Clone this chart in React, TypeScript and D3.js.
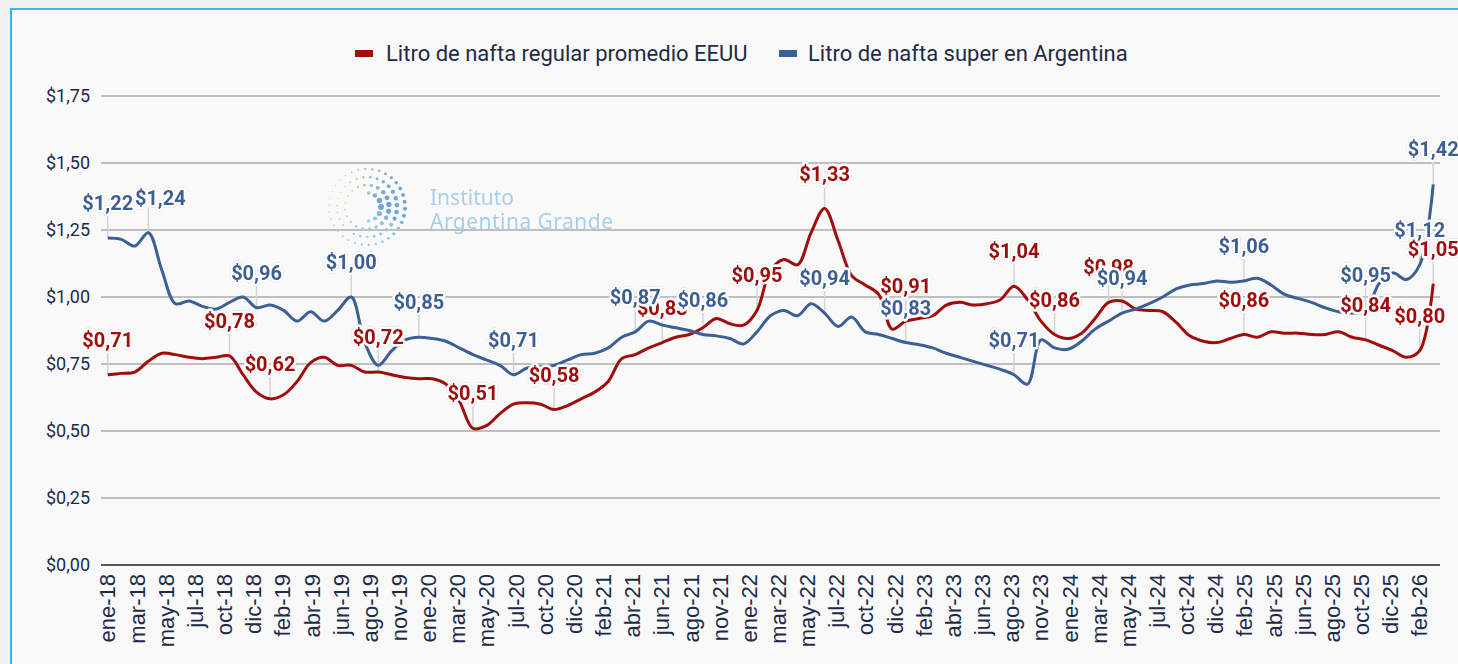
import React from 'react';
import * as d3 from 'd3';

const W = 1458;
const H = 664;

const monthNames = ['ene', 'feb', 'mar', 'abr', 'may', 'jun', 'jul', 'ago', 'sep', 'oct', 'nov', 'dic'];
const categories: string[] = d3.range(99).map((i) => `${monthNames[i % 12]}-${18 + Math.floor(i / 12)}`);

const tickLabels = [
  'ene-18', 'mar-18', 'may-18', 'jul-18', 'oct-18', 'dic-18', 'feb-19', 'abr-19', 'jun-19', 'ago-19',
  'nov-19', 'ene-20', 'mar-20', 'may-20', 'jul-20', 'oct-20', 'dic-20', 'feb-21', 'abr-21', 'jun-21',
  'ago-21', 'nov-21', 'ene-22', 'mar-22', 'may-22', 'jul-22', 'oct-22', 'dic-22', 'feb-23', 'abr-23',
  'jun-23', 'ago-23', 'nov-23', 'ene-24', 'mar-24', 'may-24', 'jul-24', 'oct-24', 'dic-24', 'feb-25',
  'abr-25', 'jun-25', 'ago-25', 'oct-25', 'dic-25', 'feb-26',
];

const yTicks = [0, 0.25, 0.5, 0.75, 1.0, 1.25, 1.5, 1.75];

// Litro de nafta regular promedio EEUU (USD)
const usaValues = [
  0.71, 0.715, 0.72, 0.76, 0.79, 0.785, 0.775, 0.77, 0.775, 0.78,
  0.71, 0.645, 0.62, 0.635, 0.685, 0.755, 0.775, 0.745, 0.745, 0.72,
  0.72, 0.71, 0.70, 0.695, 0.695, 0.675, 0.61, 0.51, 0.52, 0.565,
  0.60, 0.605, 0.60, 0.58, 0.595, 0.62, 0.645, 0.685, 0.77, 0.785,
  0.81, 0.83, 0.85, 0.86, 0.885, 0.92, 0.90, 0.895, 0.95, 1.10,
  1.14, 1.12, 1.24, 1.33, 1.21, 1.08, 1.045, 1.01, 0.88, 0.91,
  0.92, 0.93, 0.97, 0.98, 0.97, 0.975, 0.99, 1.04, 0.99, 0.91,
  0.86, 0.845, 0.865, 0.92, 0.98, 0.985, 0.955, 0.95, 0.945, 0.905,
  0.855, 0.835, 0.83, 0.845, 0.86, 0.85, 0.87, 0.865, 0.865, 0.86,
  0.86, 0.87, 0.85, 0.84, 0.82, 0.80, 0.775, 0.80, 1.05,
];

// Litro de nafta super en Argentina (USD)
const argValues = [
  1.22, 1.215, 1.19, 1.24, 1.10, 0.975, 0.985, 0.965, 0.955, 0.98,
  1.00, 0.96, 0.97, 0.95, 0.91, 0.945, 0.91, 0.95, 1.00, 0.83,
  0.745, 0.80, 0.84, 0.85, 0.845, 0.835, 0.81, 0.785, 0.765, 0.745,
  0.71, 0.735, 0.74, 0.745, 0.765, 0.785, 0.79, 0.81, 0.85, 0.87,
  0.91, 0.895, 0.885, 0.875, 0.86, 0.855, 0.845, 0.825, 0.87, 0.93,
  0.95, 0.93, 0.975, 0.94, 0.89, 0.925, 0.87, 0.86, 0.845, 0.83,
  0.822, 0.81, 0.79, 0.775, 0.76, 0.745, 0.73, 0.71, 0.675, 0.84,
  0.81, 0.805, 0.835, 0.88, 0.91, 0.94, 0.955, 0.975, 1.00, 1.03,
  1.045, 1.05, 1.06, 1.055, 1.06, 1.07, 1.045, 1.01, 0.995, 0.98,
  0.96, 0.945, 0.94, 0.95, 1.05, 1.09, 1.065, 1.12, 1.42,
];

const usaLabelIdx = [0, 9, 12, 20, 27, 33, 41, 48, 53, 59, 67, 70, 74, 84, 93, 97, 98];
const argLabelIdx = [0, 3, 11, 18, 23, 30, 39, 44, 53, 59, 67, 75, 84, 93, 97, 98];

const seriesNames = ['Litro de nafta regular promedio EEUU', 'Litro de nafta super en Argentina'];

const RED = '#A00D0D';
const BLUE = '#3C5F95';
const TEXT = '#1E2B48';

const x = d3.scaleLinear().domain([-0.5, categories.length - 0.5]).range([101, 1440]);
const y = d3.scaleLinear().domain([0, 1.75]).range([565, 96]);
const xTick = d3.scalePoint<string>().domain(tickLabels).range([x(0), x(97)]);

const fmt = (v: number) => '$' + d3.format('.2f')(v).replace('.', ',');

const lineGen = d3
  .line<number>()
  .x((_, i) => x(i))
  .y((d) => y(d))
  .curve(d3.curveCatmullRom.alpha(0.5));

// decorative watermark dots
const logoCx = 367;
const logoCy = 207;
const logoDots: { cx: number; cy: number; r: number; c: string }[] = [];
[14, 22, 30, 38].forEach((rad, j) => {
  const n = Math.round((2 * Math.PI * rad) / 7);
  for (let k = 0; k < n; k++) {
    const a = (k / n) * 2 * Math.PI + j * 0.2;
    const cx = logoCx + rad * Math.cos(a);
    const cy = logoCy + rad * Math.sin(a);
    const right = (1 + Math.cos(a - 0.3)) / 2;
    const bottom = Math.max(0, Math.sin(a));
    const size = (0.9 + 2.1 * right * (1 - 0.45 * bottom)) * (1 - j * 0.1);
    const col = d3.interpolateRgb('#cfe083', '#5f9bd3')(Math.min(1, right * 1.15));
    const c = bottom > 0.4 ? d3.interpolateRgb(col, '#7fd0f0')(bottom) : col;
    if (j === 0 && Math.cos(a) < -0.2) continue;
    logoDots.push({ cx, cy, r: size, c });
  }
});

// label nudges (px) where the original moved a label sideways to avoid a neighbour
const labelNudge: Record<string, number> = { 'arg-3': 12 };

function DataLabel({ xp, yp, text, color }: { xp: number; yp: number; text: string; color: string }) {
  return (
    <text x={xp} y={yp - 35} dy="0.35em" textAnchor="middle" fontFamily="Roboto" fontWeight={700} fontSize={20}
      fill={color} stroke="#ffffff" strokeWidth={5} strokeLinejoin="round" paintOrder="stroke" filter="url(#rim)">
      {text}
    </text>
  );
}

export default function App() {
  const series = [
    { key: 'usa', name: seriesNames[0], values: usaValues, color: RED, labels: usaLabelIdx },
    { key: 'arg', name: seriesNames[1], values: argValues, color: BLUE, labels: argLabelIdx },
  ];
  return (
    <svg width={W} height={H} style={{ position: 'absolute', left: 0, top: 0 }}>
      <defs>
        <filter id="rim" x="-20%" y="-40%" width="140%" height="180%">
          <feDropShadow dx="0" dy="0" stdDeviation="0.7" floodColor="#8a8a8a" floodOpacity="0.7" />
        </filter>
      </defs>
      <rect x={0} y={0} width={W} height={H} fill="#f1f1f1" />
      <rect x={11} y={9} width={W + 20} height={H + 20} fill="#f9f9f9" stroke="#35b8ee" strokeWidth={2} />

      {/* watermark */}
      <g opacity={0.9}>
        {logoDots.map((d, i) => (
          <circle key={i} cx={d.cx} cy={d.cy} r={d.r} fill={d.c} />
        ))}
        <text x={430} y={205} fontFamily="Noto Sans" fontSize={21} fill="#9ccbea">Instituto</text>
        <text x={430} y={229} fontFamily="Noto Sans" fontSize={21} fill="#9ccbea" textLength={183}>Argentina Grande</text>
      </g>

      {/* gridlines & y axis */}
      {yTicks.map((t) => (
        <g key={t}>
          {t > 0 && <line x1={101} x2={1440} y1={y(t)} y2={y(t)} stroke="#bfbfbf" strokeWidth={2} />}
          <text x={90} y={y(t)} dy="0.35em" textAnchor="end" fontFamily="Roboto" fontSize={18} fill={TEXT}>
            {fmt(t)}
          </text>
        </g>
      ))}
      <line x1={101} x2={1440} y1={y(0)} y2={y(0)} stroke="#595959" strokeWidth={2} />

      {/* x axis labels */}
      {tickLabels.map((t) => (
        <text key={t} transform={`translate(${xTick(t)},574) rotate(-90)`} dy="0.35em" textAnchor="end"
          fontFamily="Liberation Sans, Arial" fontSize={22} fill={TEXT}>
          {t}
        </text>
      ))}

      {/* leader lines */}
      {series.map((s) =>
        s.labels.map((i) => (
          <line key={s.key + i} x1={x(i)} x2={x(i)} y1={y(s.values[i]) - 25} y2={y(s.values[i])} stroke="#d4d4d4" strokeWidth={1.5} />
        ))
      )}

      {/* lines */}
      {series.map((s) => (
        <path key={s.key} d={lineGen(s.values) || ''} fill="none" stroke={s.color} strokeWidth={3} strokeLinejoin="round" />
      ))}

      {/* data labels */}
      {series.map((s) =>
        s.labels.map((i) => (
          <DataLabel key={s.key + 'l' + i} xp={x(i) + (labelNudge[`${s.key}-${i}`] || 0)} yp={y(s.values[i])}
            text={fmt(s.values[i])} color={s.color} />
        ))
      )}

      {/* legend */}
      <rect x={355} y={50} width={18} height={7} fill={RED} />
      <text x={386} y={53} dy="0.35em" fontFamily="Roboto" fontSize={22} fill={TEXT}>{seriesNames[0]}</text>
      <rect x={779} y={50} width={18} height={7} fill={BLUE} />
      <text x={808} y={53} dy="0.35em" fontFamily="Roboto" fontSize={22} fill={TEXT}>{seriesNames[1]}</text>
    </svg>
  );
}
